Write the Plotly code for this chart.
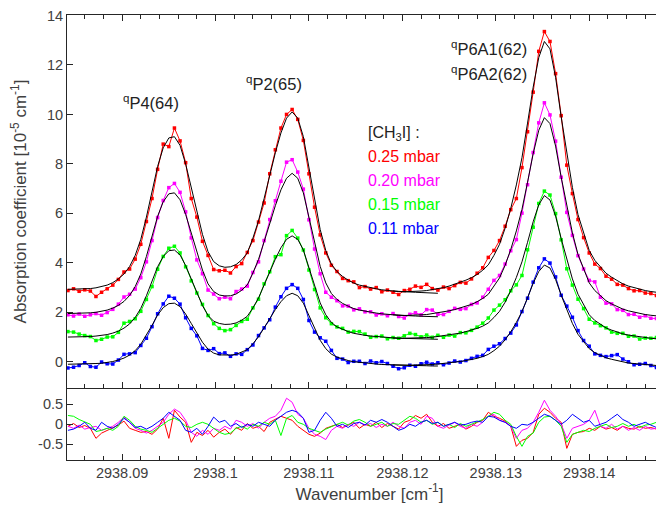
import numpy as np
import plotly.graph_objects as go

# ---------------- data ----------------
wn_start = 2938.0842
wn_step = 0.0006
n_pts = 108
wavenumber = np.round(wn_start + wn_step * np.arange(n_pts), 5)

fit_025 = [2.93,2.93,2.93,2.94,2.96,2.99,3.03,3.10,3.20,3.35,
           3.55,3.85,4.30,4.95,5.85,6.85,7.90,8.65,9.05,9.10,
           8.75,8.00,7.05,6.05,5.15,4.45,4.05,3.88,3.82,3.84,
           3.93,4.12,4.40,5.00,5.70,6.60,7.55,8.45,9.25,9.85,
           10.10,9.85,9.10,7.85,6.55,5.35,4.50,3.95,3.65,3.45,
           3.30,3.18,3.10,3.04,2.99,2.95,2.91,2.88,2.86,2.84,
           2.83,2.83,2.84,2.86,2.88,2.91,2.95,3.00,3.06,3.13,
           3.21,3.30,3.40,3.53,3.70,3.92,4.30,4.75,5.40,6.20,
           7.15,8.25,9.65,11.10,12.30,12.95,12.65,11.50,9.90,8.55,
           7.05,5.95,5.20,4.50,4.10,3.82,3.58,3.42,3.28,3.15,
           3.06,2.99,2.93,2.88,2.84,2.80,2.77,2.75]
fit_020 = [1.95,1.95,1.95,1.96,1.98,2.00,2.03,2.09,2.17,2.28,
           2.44,2.68,3.04,3.55,4.26,5.05,5.88,6.47,6.79,6.83,
           6.55,5.96,5.21,4.42,3.71,3.15,2.84,2.70,2.66,2.67,
           2.74,2.89,3.11,3.59,4.14,4.85,5.60,6.31,6.95,7.42,
           7.62,7.42,6.83,5.84,4.81,3.86,3.19,2.76,2.52,2.36,
           2.25,2.15,2.09,2.04,2.00,1.97,1.94,1.91,1.90,1.88,
           1.87,1.87,1.88,1.90,1.91,1.94,1.97,2.01,2.06,2.11,
           2.17,2.25,2.32,2.43,2.56,2.73,3.04,3.39,3.90,4.54,
           5.29,6.16,7.26,8.41,9.36,9.87,9.63,8.72,7.46,6.39,
           5.21,4.34,3.75,3.19,2.88,2.66,2.47,2.34,2.23,2.13,
           2.06,2.00,1.95,1.91,1.88,1.85,1.83,1.81]
fit_015 = [1.00,1.00,1.00,1.01,1.02,1.04,1.06,1.10,1.16,1.24,
           1.36,1.53,1.79,2.16,2.67,3.24,3.84,4.26,4.49,4.52,
           4.32,3.89,3.35,2.78,2.27,1.87,1.64,1.55,1.51,1.52,
           1.57,1.68,1.84,2.18,2.58,3.10,3.64,4.15,4.61,4.95,
           5.09,4.95,4.52,3.81,3.07,2.38,1.90,1.59,1.41,1.30,
           1.22,1.15,1.10,1.07,1.04,1.02,0.99,0.98,0.96,0.95,
           0.95,0.95,0.95,0.96,0.98,0.99,1.02,1.04,1.08,1.12,
           1.16,1.22,1.27,1.35,1.44,1.57,1.79,2.04,2.41,2.87,
           3.41,4.04,4.83,5.66,6.35,6.72,6.54,5.89,4.98,4.21,
           3.35,2.73,2.30,1.90,1.67,1.51,1.37,1.28,1.20,1.13,
           1.08,1.04,1.00,0.98,0.95,0.93,0.91,0.90]
fit_011 = [-0.10,-0.10,-0.10,-0.09,-0.09,-0.07,-0.06,-0.03,0.01,0.07,
           0.15,0.27,0.45,0.71,1.07,1.47,1.89,2.19,2.35,2.37,
           2.23,1.93,1.55,1.15,0.79,0.51,0.35,0.28,0.26,0.27,
           0.30,0.38,0.49,0.73,1.01,1.37,1.75,2.11,2.43,2.67,
           2.77,2.67,2.37,1.87,1.35,0.87,0.53,0.31,0.19,0.11,
           0.05,0.00,-0.03,-0.05,-0.07,-0.09,-0.11,-0.12,-0.13,-0.13,
           -0.14,-0.14,-0.13,-0.13,-0.12,-0.11,-0.09,-0.07,-0.05,-0.02,
           0.01,0.05,0.09,0.14,0.21,0.30,0.45,0.63,0.89,1.21,
           1.59,2.03,2.59,3.17,3.65,3.91,3.79,3.33,2.69,2.15,
           1.55,1.11,0.81,0.53,0.37,0.26,0.16,0.10,0.04,-0.01,
           -0.05,-0.07,-0.10,-0.12,-0.13,-0.15,-0.16,-0.17]

res_025 = [-0.05,0.02,-0.08,-0.03,-0.10,-0.35,-0.22,-0.15,-0.10,-0.02,
           0.08,-0.10,-0.15,-0.20,-0.18,-0.25,-0.12,0.15,-0.35,0.35,
           0.18,0.05,-0.45,-0.20,-0.28,-0.15,-0.32,-0.20,-0.12,-0.25,
           -0.08,-0.15,0.02,-0.10,-0.05,-0.18,0.05,0.12,0.20,0.15,
           0.10,-0.05,-0.15,-0.25,-0.30,-0.22,-0.10,-0.05,0.00,-0.08,
           -0.02,0.05,-0.10,0.00,-0.05,0.05,-0.08,0.02,-0.05,-0.12,
           0.05,0.10,0.22,0.15,0.25,0.05,-0.05,0.02,-0.10,-0.05,
           0.00,-0.12,-0.05,0.05,0.10,0.30,0.20,0.15,0.08,-0.05,
           -0.55,-0.40,-0.35,-0.20,0.25,0.40,0.30,0.15,0.05,-0.60,
           -0.25,-0.20,-0.18,-0.10,-0.15,-0.05,-0.12,-0.08,-0.15,-0.05,
           -0.10,-0.12,-0.05,-0.10,-0.08,-0.12,-0.05,-0.08]
res_020 = [-0.05,-0.10,-0.02,-0.12,-0.08,-0.05,-0.15,-0.10,-0.05,0.05,
           0.18,0.05,-0.10,-0.15,-0.22,-0.15,-0.05,0.05,0.25,0.38,
           0.30,0.10,-0.20,-0.30,-0.15,-0.25,-0.10,-0.15,-0.05,-0.12,
           0.10,0.05,-0.05,0.02,-0.10,0.05,0.15,0.20,0.35,0.65,
           0.55,0.25,0.15,-0.10,-0.25,-0.30,-0.38,-0.15,-0.05,-0.10,
           0.00,-0.05,0.05,-0.02,0.02,-0.08,0.00,-0.05,0.05,-0.05,
           -0.10,0.05,0.10,0.00,0.20,0.15,-0.05,-0.10,-0.02,0.05,
           -0.05,-0.10,0.00,-0.05,0.05,0.20,0.25,0.10,0.05,-0.05,
           -0.35,-0.15,-0.10,0.05,0.30,0.60,0.35,0.20,0.00,-0.35,
           -0.10,-0.05,0.00,0.10,0.35,-0.05,-0.10,0.00,-0.12,-0.05,
           -0.15,-0.08,-0.15,-0.05,-0.12,-0.10,-0.15,-0.10]
res_015 = [0.22,0.20,0.12,0.05,0.00,-0.18,-0.15,-0.10,-0.15,-0.05,
           0.20,0.10,-0.05,-0.12,-0.15,-0.20,-0.10,0.00,0.10,0.15,
           0.08,-0.05,-0.08,0.00,0.05,0.00,-0.10,-0.20,-0.25,-0.22,
           -0.10,-0.05,-0.12,0.00,-0.05,0.05,0.00,0.10,-0.28,0.15,
           0.22,0.05,0.00,-0.10,-0.15,-0.20,-0.12,-0.05,0.00,0.05,
           -0.02,0.08,0.12,0.05,-0.05,0.00,0.05,-0.05,0.02,0.00,
           0.10,0.20,0.15,0.05,0.10,0.00,0.05,-0.05,0.00,-0.08,
           0.02,-0.05,0.00,0.05,0.12,0.20,0.30,0.25,0.10,0.00,
           -0.30,-0.55,-0.30,-0.22,0.05,0.18,0.20,0.10,-0.05,-0.45,
           -0.25,-0.20,-0.15,-0.18,-0.10,-0.05,0.00,-0.08,-0.05,0.02,
           -0.05,0.00,-0.08,-0.02,0.00,0.05,0.10,0.12]
res_011 = [-0.15,-0.12,-0.05,0.05,-0.10,-0.15,0.05,-0.05,-0.10,0.00,
           0.15,0.05,-0.08,-0.05,-0.12,-0.05,0.05,0.15,0.30,0.20,
           0.10,-0.15,-0.20,-0.10,-0.25,-0.05,0.18,0.05,0.10,-0.05,
           0.02,-0.08,0.00,-0.05,0.05,0.00,-0.05,0.10,0.20,0.30,
           0.35,0.30,0.15,-0.20,-0.15,0.10,0.30,0.15,-0.05,0.00,
           -0.08,0.02,0.05,-0.02,0.10,0.05,0.12,0.05,-0.05,-0.15,
           -0.10,0.00,-0.05,0.05,0.10,0.02,0.05,-0.05,0.00,0.05,
           -0.02,0.00,0.05,0.08,0.05,0.20,0.18,0.10,0.05,-0.05,
           -0.10,0.00,-0.02,0.05,0.15,0.25,0.20,0.10,0.00,0.10,
           0.25,0.15,0.05,0.10,-0.05,0.00,0.05,0.15,0.25,0.12,
           0.05,-0.05,0.00,0.05,-0.02,-0.08,-0.10,-0.05]

# end of the left-window fit (P4/P2 window), overlapping the P6-window fit
tail_first = 58
tail_025 = [2.86,2.84,2.83,2.82,2.81,2.80,2.79,2.78,2.77]
tail_020 = [1.90,1.88,1.87,1.86,1.85,1.84,1.83,1.83,1.82]
tail_015 = [0.96,0.95,0.95,0.94,0.93,0.93,0.92,0.92,0.91]
tail_011 = [-0.13,-0.13,-0.14,-0.15,-0.15,-0.16,-0.16,-0.17,-0.17]

pressures = ["0.25 mbar", "0.20 mbar", "0.15 mbar", "0.11 mbar"]
colors = ["#ff0000", "#ff00ff", "#00ff00", "#0000ff"]
fits = [fit_025, fit_020, fit_015, fit_011]
resids = [res_025, res_020, res_015, res_011]
tails = [tail_025, tail_020, tail_015, tail_011]

line_labels = ["<sup>q</sup>P4(64)", "<sup>q</sup>P2(65)",
               "<sup>q</sup>P6A1(62)", "<sup>q</sup>P6A2(62)"]

x_major = [2938.09, 2938.10, 2938.11, 2938.12, 2938.13, 2938.14]
x_major_text = ["2938.09", "2938.1", "2938.11", "2938.12", "2938.13", "2938.14"]

# ---------------- figure ----------------
# the page body adds an 8 px offset; margins compensate so the plot area
# lands at x 67..672 and y 15..460 of the browser window
OFF = 8
W, H = 664, 508
ML, MR, MT, MB = 67 - OFF, 0, 15 - OFF, 48 + OFF
PW, PH = W - ML - MR, H - MT - MB
FONT = "Liberation Sans, Arial, Helvetica, sans-serif"
AX = "#262626"
TXT = "#404040"

def paper(px, py):
    # px, py: window pixels
    return (px - OFF - ML) / PW, (H - MB - (py - OFF)) / PH

fig = go.Figure()

for fit, res, col in zip(fits, resids, colors):
    data = np.array(fit) + np.array(res)
    fig.add_trace(go.Scatter(x=wavenumber, y=data, mode="lines+markers",
                             line=dict(color=col, width=1),
                             marker=dict(symbol="square", size=3.5, color=col),
                             xaxis="x", yaxis="y", showlegend=False, hoverinfo="skip"))
for fit, tail in zip(fits, tails):
    fig.add_trace(go.Scatter(x=wavenumber, y=fit, mode="lines",
                             line=dict(color="black", width=1),
                             xaxis="x", yaxis="y", showlegend=False, hoverinfo="skip"))
    fig.add_trace(go.Scatter(x=wavenumber[tail_first:tail_first + len(tail)], y=tail,
                             mode="lines", line=dict(color="black", width=1),
                             xaxis="x", yaxis="y", showlegend=False, hoverinfo="skip"))
for res, col in zip(resids, colors):
    fig.add_trace(go.Scatter(x=wavenumber, y=res, mode="lines",
                             line=dict(color=col, width=1),
                             xaxis="x2", yaxis="y2", showlegend=False, hoverinfo="skip"))

main_dom = [(460 - 388) / PH, 1.0]
res_dom = [0.0, (460 - 389) / PH]

x_lo = 2938.0841
x_hi = x_lo + PW / 93.42 * 0.01

common_x = dict(range=[x_lo, x_hi], showgrid=False, zeroline=False,
                showline=True, linecolor=AX, linewidth=1, automargin=False,
                ticks="inside", ticklen=6, tickcolor=AX, tickwidth=1,
                tickvals=x_major, ticktext=x_major_text,
                ticklabeloverflow="allow",
                minor=dict(ticks="inside", ticklen=4, tickcolor=AX,
                           tickmode="linear", tick0=2938.08, dtick=0.002,
                           showgrid=False))

fig.update_layout(
    width=W, height=H,
    margin=dict(l=ML, r=MR, t=MT, b=MB, autoexpand=False),
    paper_bgcolor="white", plot_bgcolor="white",
    font=dict(family=FONT, size=14.5, color=TXT),
    xaxis=dict(**common_x, domain=[0, 1], anchor="y", showticklabels=False,
               mirror="ticks"),
    xaxis2=dict(**common_x, domain=[0, 1], anchor="y2", matches="x",
                showticklabels=True, mirror=True,
                tickfont=dict(family=FONT, size=14.5, color=TXT),
                title=dict(text="Wavenumber [cm<sup>-1</sup>]",
                           font=dict(family=FONT, size=17, color=TXT), standoff=6)),
    yaxis=dict(domain=main_dom, anchor="x", range=[-1.06, 14.02], automargin=False,
               showgrid=False, zeroline=False, showline=True, linecolor=AX,
               ticks="inside", ticklen=6, tickcolor=AX,
               ticklabeloverflow="allow",
               tickvals=[0, 2, 4, 6, 8, 10, 12, 14],
               ticktext=["0", "2", "4", "6", "8", "10", "12", "14"],
               tickfont=dict(family=FONT, size=14.5, color=TXT),
               title=dict(text="Absorption coefficient [10<sup>-5</sup> cm<sup>-1</sup>]",
                          font=dict(family=FONT, size=17, color=TXT), standoff=16)),
    yaxis2=dict(domain=res_dom, anchor="x2", range=[-0.89, 0.88], automargin=False,
                showgrid=False, zeroline=False, showline=True, linecolor=AX,
                ticks="inside", ticklen=6, tickcolor=AX,
                ticklabeloverflow="allow",
                tickvals=[-0.5, 0, 0.5], ticktext=["-0.5", "0", "0.5"],
                tickfont=dict(family=FONT, size=14.5, color=TXT)),
)

annots = []
label_pos = [(121, 102), (244, 83), (449, 48), (449, 73)]
for txt, (px, py) in zip(line_labels, label_pos):
    xp, yp = paper(px, py)
    annots.append(dict(text=txt, x=xp, y=yp, xref="paper", yref="paper",
                       xanchor="left", yanchor="middle", showarrow=False,
                       font=dict(family=FONT, size=16.5, color="#222222")))
xp, yp = paper(366, 133)
annots.append(dict(text="[CH<sub>3</sub>I] :", x=xp, y=yp, xref="paper", yref="paper",
                   xanchor="left", yanchor="middle", showarrow=False,
                   font=dict(family=FONT, size=16, color="#222222")))
for i, (lab, col) in enumerate(zip(pressures, colors)):
    xp, yp = paper(366, 157 + 23.7 * i)
    annots.append(dict(text=lab, x=xp, y=yp, xref="paper", yref="paper",
                       xanchor="left", yanchor="middle", showarrow=False,
                       font=dict(family=FONT, size=16, color=col)))
fig.update_layout(annotations=annots)

fig.write_html("out.html")
